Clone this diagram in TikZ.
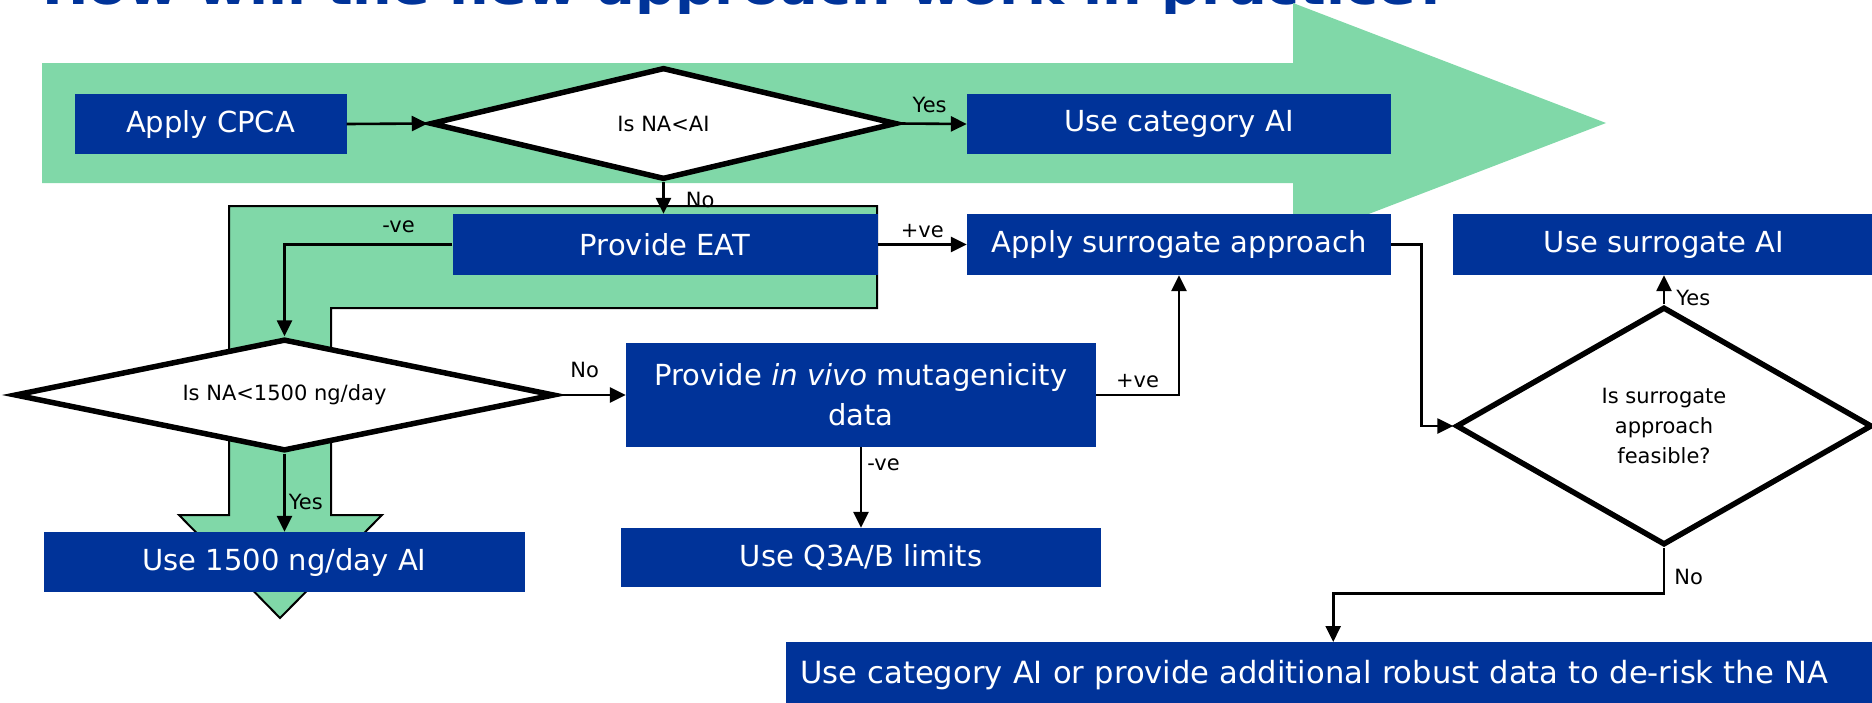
\documentclass[tikz,border=0pt]{standalone}
\usepackage{fontspec}
\setmainfont{DejaVu Sans}
\newfontfamily\headfont{DejaVu Sans}[FakeStretch=1.16]
\usepackage{xcolor}
\usetikzlibrary{shapes.geometric, arrows.meta, positioning, calc}

\definecolor{emablue}{RGB}{0,51,153}
\definecolor{bandgreen}{RGB}{128,216,168}

\newcommand{\boxfont}{\fontsize{29}{40}\selectfont}
\newcommand{\smallfont}{\fontsize{21}{30}\selectfont}

\begin{document}
\begin{tikzpicture}[
    x=1pt, y=-1pt,
    process/.style={rectangle, fill=emablue, text=white, font=\boxfont, inner sep=0pt, minimum height=60pt, align=center},
    decision/.style={diamond, draw, line width=5.5pt, fill=white, inner sep=0pt, font=\smallfont, align=center},
    arrow/.style={-{Triangle[length=16pt, width=15pt]}, line width=2.6pt},
    answer/.style={font=\smallfont, inner sep=3pt},
    band/.style={fill=bandgreen}
]
    \useasboundingbox (0,0) rectangle (1872,702);

    \node[anchor=base west, inner sep=0pt, text=emablue, font=\headfont\bfseries\fontsize{48}{50}\selectfont] (title) at (42,4) {How will the new approach work in practice?};

    % Green guide arrows behind the flow
    \fill[band] (42,63) -- (1293,63) -- (1293,3) -- (1606,123) -- (1293,243) -- (1293,183) -- (42,183) -- cycle;
    \filldraw[band, draw=black, line width=2pt] (229,206) -- (877,206) -- (877,308) -- (331,308) -- (331,515)
        -- (382,515) -- (280,618) -- (179,515) -- (229,515) -- cycle;

    \node[process, minimum width=272pt] (cpca) at (210.5,124) {Apply CPCA};
    \node[decision, aspect=4.1, minimum width=466pt, minimum height=112pt] (nvsai) at (663.5,123.5) {Is NA<AI};
    \node[process, minimum width=424pt] (catai) at (1179,124) {Use category AI};
    \node[process, minimum width=425pt, minimum height=61pt] (eat) at (665,244.5) {Provide EAT};
    \node[process, minimum width=424pt, minimum height=61pt] (surr) at (1179,244.5) {Apply surrogate approach};
    \node[process, minimum width=422pt, minimum height=61pt] (surrai) at (1664,244.5) {Use surrogate AI};
    \node[decision, aspect=4.7, minimum width=540pt, minimum height=112pt] (nvs1500) at (284.5,395) {Is NA<1500 ng/day};
    \node[process, minimum width=470pt, minimum height=104pt] (invivo) at (861,395) {Provide \textit{in vivo} mutagenicity\\data};
    \node[decision, aspect=1.74, minimum width=416pt, minimum height=238pt] (feasible) at (1664,426) {Is surrogate\\approach\\feasible?};
    \node[process, minimum width=481pt] (ai1500) at (284.5,562) {Use 1500 ng/day AI};
    \node[process, minimum width=480pt, minimum height=59pt] (q3ab) at (861,557.5) {Use Q3A/B limits};
    \node[process, anchor=north west, minimum height=66pt, text width=1066pt, inner xsep=14pt, align=left,
        font=\fontsize{30.6}{40}\selectfont] (derisk) at (786,642)
        {Use category AI or provide additional robust data to de-risk the NA};

    % Flow
    \draw[arrow] (cpca.east) -- (nvsai.west);
    \draw[arrow] (nvsai.east) -- node[answer, above=7pt, pos=0.45] {Yes} (catai.west);
    \draw[arrow] (nvsai.south) -- node[answer, right=18pt, pos=0.55] {No} (nvsai.south |- eat.north);
    \draw[arrow] (eat.west) -| node[answer, above=7pt, pos=0.16] {-ve} (nvs1500.north);
    \draw[arrow] (eat.east) -- node[answer, above=2pt] {+ve} (surr.west);
    \draw[arrow] (nvs1500.south) -- node[answer, right, pos=0.62] {Yes} (ai1500.north);
    \draw[arrow] (nvs1500.east) -- node[answer, above=13pt, pos=0.4] {No} (invivo.west);
    \draw[arrow] (invivo.south) -- node[answer, right=2pt, pos=0.22] {-ve} (q3ab.north);
    \draw[arrow] (invivo.east) -| node[answer, above=3pt, pos=0.25] {+ve} (surr.south);
    \draw[arrow] (surr.east) -- ++(30,0) |- (feasible.west);
    \draw[arrow] (feasible.north) -- node[answer, right=8pt, pos=0.2] {Yes} (surrai.south);
    \draw[arrow] (feasible.south) -- node[answer, right=6pt, pos=0.63] {No} ++(0,46) -| (derisk.north);
\end{tikzpicture}
\end{document}
